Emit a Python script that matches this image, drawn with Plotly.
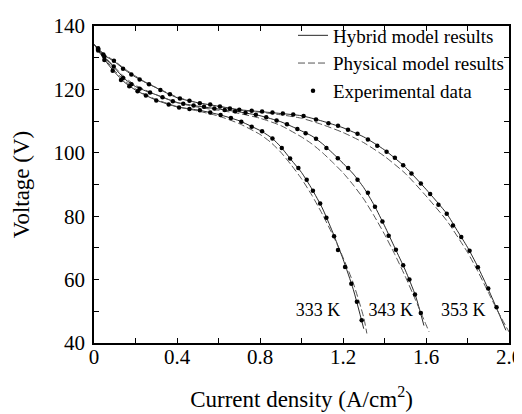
import plotly.graph_objects as go

# ---------------- data ----------------
x_tick_vals = [0, 0.4, 0.8, 1.2, 1.6, 2.0]
x_tick_text = ["0", "0.4", "0.8", "1.2", "1.6", "2.0"]
y_tick_vals = [40, 60, 80, 100, 120, 140]

temps = ["333 K", "343 K", "353 K"]

# Experimental data
exp_I_333 = [0.02, 0.05, 0.09, 0.13, 0.17, 0.21, 0.25, 0.30, 0.36, 0.41, 0.46, 0.51, 0.56, 0.61, 0.66,
             0.71, 0.76, 0.81, 0.86, 0.905, 0.945, 0.985, 1.025, 1.055, 1.09, 1.12, 1.157, 1.176, 1.21,
             1.24, 1.267, 1.29]
exp_V_333 = [132.3, 129.3, 125.9, 123.0, 121.0, 119.4, 118.1, 116.5, 115.2, 114.3, 113.8, 113.4, 112.7, 111.9, 111.0,
             109.8, 108.2, 106.8, 104.5, 101.5, 98.2, 95.2, 91.5, 88.0, 84.0, 79.5, 73.7, 69.3, 64.0,
             58.7, 53.0, 47.2]

exp_I_343 = [0.02, 0.05, 0.095, 0.14, 0.18, 0.22, 0.27, 0.33, 0.38, 0.43, 0.48, 0.53, 0.58, 0.63, 0.68,
             0.73, 0.78, 0.83, 0.88, 0.93, 0.98, 1.02, 1.07, 1.12, 1.175, 1.225, 1.27, 1.32, 1.354, 1.39,
             1.42, 1.455, 1.49, 1.52, 1.547, 1.575]
exp_V_343 = [132.7, 130.3, 127.2, 123.6, 121.6, 120.2, 119.0, 117.5, 116.3, 115.5, 114.9, 114.5, 114.0, 113.5, 113.1,
             112.6, 112.0, 111.2, 110.2, 109.0, 107.5, 106.2, 104.4, 101.5, 98.3, 95.2, 91.5, 87.4, 83.0, 78.3,
             73.8, 69.4, 64.5, 60.0, 55.3, 49.5]

exp_I_353 = [0.02, 0.045, 0.096, 0.14, 0.18, 0.22, 0.265, 0.32, 0.366, 0.414, 0.46, 0.51, 0.56, 0.607, 0.655,
             0.70, 0.76, 0.81, 0.86, 0.91, 0.96, 1.01, 1.07, 1.13, 1.176, 1.224, 1.27, 1.32, 1.365, 1.41,
             1.45, 1.49, 1.53, 1.575, 1.62, 1.66, 1.70, 1.73, 1.77, 1.81, 1.85, 1.90, 1.94]
exp_V_353 = [133.0, 131.0, 129.0, 126.5, 124.7, 123.1, 121.6, 119.8, 118.5, 117.1, 116.4, 115.6, 115.2, 114.6, 114.0,
             113.6, 113.3, 113.0, 112.7, 112.4, 112.1, 111.6, 110.5, 109.3, 108.5, 107.3, 106.0, 104.2, 102.2, 100.3,
             98.4, 96.1, 93.5, 90.3, 87.0, 83.6, 80.8, 77.1, 73.4, 69.1, 63.9, 57.2, 51.3]

# Hybrid model results (solid)
hyb_I_333 = [0.0, 0.05, 0.1, 0.15, 0.2, 0.25, 0.3, 0.4, 0.5, 0.6, 0.7, 0.76, 0.81, 0.86, 0.9, 0.95, 1.0,
             1.05, 1.1, 1.15, 1.2, 1.25, 1.3]
hyb_V_333 = [134.3, 129.4, 125.4, 122.1, 119.8, 118.1, 116.6, 114.5, 113.5, 112.1, 110.1, 108.3, 106.7, 104.5, 101.9,
             97.8, 93.8, 88.6, 82.6, 75.0, 66.5, 56.8, 44.5]

hyb_I_343 = [0.0, 0.05, 0.1, 0.15, 0.2, 0.25, 0.3, 0.4, 0.5, 0.6, 0.7, 0.8, 0.9, 0.95, 1.0, 1.05, 1.1, 1.15,
             1.2, 1.25, 1.3, 1.35, 1.4, 1.45, 1.5, 1.55, 1.59]
hyb_V_343 = [134.3, 130.2, 126.7, 123.2, 120.9, 119.5, 118.3, 115.9, 114.7, 113.8, 112.9, 111.7, 109.8, 108.4, 106.9,
             105.3, 102.9, 99.9, 96.7, 93.3, 89.0, 83.5, 77.0, 70.0, 63.0, 54.8, 45.5]

hyb_I_353 = [0.0, 0.05, 0.1, 0.15, 0.2, 0.25, 0.3, 0.4, 0.5, 0.6, 0.7, 0.8, 0.9, 1.0, 1.1, 1.2, 1.3, 1.4,
             1.5, 1.6, 1.7, 1.75, 1.8, 1.85, 1.9, 1.95, 1.985]
hyb_V_353 = [134.3, 130.8, 128.7, 126.1, 123.9, 122.1, 120.5, 117.4, 115.8, 114.7, 113.6, 113.0, 112.4, 111.7, 110.0,
             107.9, 105.0, 100.9, 95.5, 88.5, 80.8, 75.5, 70.2, 64.0, 57.0, 49.5, 44.0]

# Physical model results (dashed)
phy_I_333 = [0.0, 0.05, 0.1, 0.15, 0.2, 0.25, 0.3, 0.4, 0.5, 0.6, 0.7, 0.8, 0.85, 0.9, 0.95, 1.0, 1.05, 1.1,
             1.15, 1.2, 1.25, 1.3, 1.315]
phy_V_333 = [134.3, 129.8, 125.9, 122.6, 120.2, 118.3, 116.8, 114.6, 113.2, 111.6, 109.2, 105.8, 103.4, 100.2, 96.2,
             91.8, 86.6, 80.7, 74.2, 67.0, 58.8, 48.0, 43.0]

phy_I_343 = [0.0, 0.05, 0.1, 0.15, 0.2, 0.25, 0.3, 0.4, 0.5, 0.6, 0.7, 0.8, 0.9, 1.0, 1.05, 1.1, 1.15, 1.2,
             1.25, 1.3, 1.35, 1.4, 1.45, 1.5, 1.55, 1.6, 1.615]
phy_V_343 = [134.3, 130.4, 127.0, 123.7, 121.3, 119.7, 118.3, 115.8, 114.4, 113.4, 112.4, 110.9, 108.6, 105.0, 102.8,
             100.1, 97.0, 93.7, 89.8, 85.4, 80.1, 74.3, 67.9, 61.0, 53.5, 45.8, 43.5]

phy_I_353 = [0.0, 0.05, 0.1, 0.15, 0.2, 0.25, 0.3, 0.4, 0.5, 0.6, 0.7, 0.8, 0.9, 1.0, 1.1, 1.2, 1.3, 1.4,
             1.5, 1.6, 1.7, 1.8, 1.85, 1.9, 1.95, 2.0]
phy_V_353 = [134.3, 131.1, 128.9, 126.4, 124.2, 122.2, 120.6, 117.6, 115.8, 114.6, 113.5, 112.8, 112.0, 110.9, 108.9,
             106.4, 103.2, 98.9, 93.5, 86.4, 78.6, 68.6, 62.6, 56.0, 49.5, 43.5]

label_I = [1.08, 1.43, 1.78]
label_V = [50.0, 50.0, 50.0]

# ---------------- figure ----------------
fig = go.Figure()

hyb = [(hyb_I_333, hyb_V_333), (hyb_I_343, hyb_V_343), (hyb_I_353, hyb_V_353)]
phy = [(phy_I_333, phy_V_333), (phy_I_343, phy_V_343), (phy_I_353, phy_V_353)]
exp = [(exp_I_333, exp_V_333), (exp_I_343, exp_V_343), (exp_I_353, exp_V_353)]

for k, (xi, yi) in enumerate(hyb):
    fig.add_trace(go.Scatter(x=xi, y=yi, mode="lines", name="Hybrid model results",
                             line=dict(color="#111111", width=0.9, shape="spline", smoothing=0.6),
                             legendgroup="hyb", showlegend=(k == 0)))
for k, (xi, yi) in enumerate(phy):
    fig.add_trace(go.Scatter(x=xi, y=yi, mode="lines", name="Physical model results",
                             line=dict(color="#555555", width=1.0, dash="7px,3px", shape="spline", smoothing=0.6),
                             legendgroup="phy", showlegend=(k == 0)))
for k, (xi, yi) in enumerate(exp):
    fig.add_trace(go.Scatter(x=xi, y=yi, mode="markers", name="Experimental data",
                             marker=dict(color="black", size=4.5),
                             legendgroup="exp", showlegend=(k == 0)))

fig.add_trace(go.Scatter(x=label_I, y=label_V, mode="text", text=temps,
                         textfont=dict(family="Liberation Serif", size=18, color="black"),
                         showlegend=False, hoverinfo="skip"))

axis_common = dict(showline=True, linecolor="black", linewidth=1.5, mirror="allticks",
                   ticks="inside", ticklen=5, tickwidth=1, tickcolor="black",
                   showgrid=False, zeroline=False, automargin=False,
                   tickfont=dict(family="Liberation Serif", size=21, color="black"))

fig.update_xaxes(range=[0, 2.0], tickvals=x_tick_vals, ticktext=x_tick_text,
                 ticklabelstandoff=-6, ticklabeloverflow="allow",
                 minor=dict(dtick=0.2, tick0=0, ticks="inside", ticklen=5, tickcolor="black"),
                 title=dict(text="Current density (A/cm<sup>2</sup>)",
                            font=dict(family="Liberation Serif", size=23, color="black"), standoff=23),
                 **axis_common)
fig.update_yaxes(range=[40, 140], tickvals=y_tick_vals,
                 ticklabelstandoff=3,
                 minor=dict(dtick=10, tick0=40, ticks="inside", ticklen=5, tickcolor="black"),
                 title=dict(text="Voltage (V)",
                            font=dict(family="Liberation Serif", size=23, color="black"), standoff=17),
                 **axis_common)

# page body has an 8px margin, so the figure is 8px smaller than the window
fig.update_layout(
    width=514, height=406,
    margin=dict(l=86, r=13, t=9, b=71),
    plot_bgcolor="white", paper_bgcolor="white",
    legend=dict(x=1.0, y=1.03, xanchor="right", yanchor="top",
                font=dict(family="Liberation Serif", size=19, color="black"),
                bgcolor="rgba(0,0,0,0)", tracegroupgap=0, itemwidth=30),
)

fig.write_html("out.html")
